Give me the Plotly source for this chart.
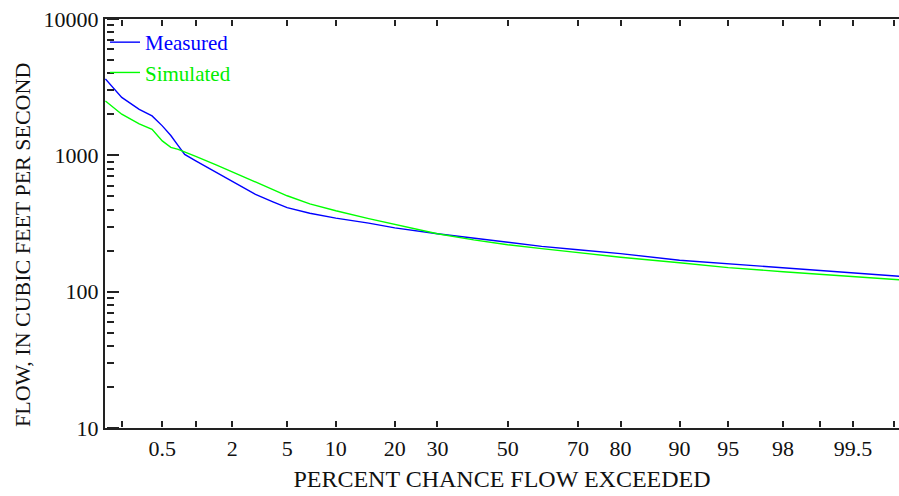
from statistics import NormalDist
import plotly.graph_objects as go

# Percent chance flow exceeded
pct = [0.135, 0.2, 0.3, 0.4, 0.5, 0.6, 0.7, 0.8, 1, 1.5, 2, 3, 4, 5, 7, 10, 15, 20,
       30, 40, 50, 60, 70, 80, 90, 95, 98, 99, 99.5, 99.8, 99.87]
measured = [3634, 2660, 2173, 1947, 1645, 1397, 1178, 1015, 911, 744, 640, 518, 456, 413,
            376, 346, 318, 294, 266, 247, 230, 215, 203, 190, 170, 160, 149, 142.5, 136.6,
            130.3, 127.7]
simulated = [2507, 2003, 1701, 1550, 1277, 1144, 1105, 1061, 981, 848, 757, 634, 559, 505,
             441, 392, 343, 310, 266, 240, 221, 207, 193, 179, 163, 150, 140, 134.3, 129.9,
             123.5, 120.4]

x_tick_pct = [0.2, 0.5, 1, 2, 5, 10, 20, 30, 50, 70, 80, 90, 95, 98, 99, 99.5, 99.8]
x_tick_txt = ["", "0.5", "", "2", "5", "10", "20", "30", "50", "70", "80", "90", "95",
              "98", "", "99.5", ""]
y_major = [10, 100, 1000, 10000]
y_major_txt = ["10", "100", "1000", "10000"]
y_minor = [m * d for d in (10, 100, 1000) for m in range(2, 10)]

nd = NormalDist()
def z(p):
    return nd.inv_cdf(p / 100.0)

xz = [z(p) for p in pct]
tick_z = [z(p) for p in x_tick_pct]

FONT = "Liberation Serif, Times New Roman, serif"
AX = "#222222"
W, H = 899, 496
L, T, B = 105, 19, 68
plot_w = W - L
plot_h = H - T - B
XR = [-3.003, 2.918]
YR = [1, 4]

fig = go.Figure()
fig.add_trace(go.Scatter(x=xz, y=measured, mode="lines",
                         name="<span style='color:#0000ff'>Measured</span>",
                         line=dict(color="#0000ff", width=1.4)))
fig.add_trace(go.Scatter(x=xz, y=simulated, mode="lines",
                         name="<span style='color:#00ee00'>Simulated</span>",
                         line=dict(color="#00ff00", width=1.4)))
# invisible helper traces so the tick-only axes are rendered
for xa, ya in (("x2", "y2"), ("x3", "y3")):
    fig.add_trace(go.Scatter(x=[xz[0]], y=[measured[0]], xaxis=xa, yaxis=ya,
                             mode="lines", showlegend=False, hoverinfo="skip",
                             line=dict(width=0), opacity=0))

tick_common = dict(ticks="outside", tickwidth=2, tickcolor=AX, showticklabels=False,
                   showline=False, showgrid=False, zeroline=False, anchor="free")

fig.update_layout(
    width=W, height=H,
    margin=dict(l=L, r=0, t=T, b=B),
    paper_bgcolor="white", plot_bgcolor="white",
    font=dict(family=FONT, size=22, color="#111111"),
    showlegend=True,
    legend=dict(x=0.0, y=1 - 3 / plot_h, xanchor="left", yanchor="top",
                bgcolor="rgba(0,0,0,0)", font=dict(family=FONT, size=21),
                itemwidth=30, tracegroupgap=0),
    xaxis=dict(range=XR, tickmode="array", tickvals=tick_z, ticktext=x_tick_txt,
               ticks="", showline=True, linecolor=AX, linewidth=2, mirror=True,
               showgrid=False, zeroline=False, tickfont=dict(family=FONT, size=22),
               title=dict(text="PERCENT CHANCE FLOW EXCEEDED",
                          font=dict(family=FONT, size=24), standoff=10)),
    yaxis=dict(type="log", range=YR, tickmode="array", tickvals=y_major,
               ticktext=y_major_txt, ticks="", showline=True, linecolor=AX,
               linewidth=2, showgrid=False, zeroline=False,
               tickfont=dict(family=FONT, size=22)),
    # bottom ticks pointing up into the plot
    xaxis2=dict(range=XR, overlaying="x", side="top", position=1.5 / plot_h,
                tickmode="array", tickvals=tick_z, ticklen=6, **tick_common),
    # top ticks pointing down into the plot
    xaxis3=dict(range=XR, overlaying="x", side="bottom", position=1,
                tickmode="array", tickvals=tick_z, ticklen=6, **tick_common),
    # left major ticks pointing right
    yaxis2=dict(type="log", range=YR, overlaying="y", side="right", position=1.2 / plot_w,
                tickmode="array", tickvals=y_major, ticklen=12, **tick_common),
    # left minor ticks pointing right
    yaxis3=dict(type="log", range=YR, overlaying="y", side="right", position=1.2 / plot_w,
                tickmode="array", tickvals=y_minor, ticklen=7, **tick_common),
    annotations=[dict(text="FLOW, IN CUBIC FEET PER SECOND", textangle=-90,
                      xref="paper", yref="paper", x=-(L - 22) / plot_w,
                      y=1 - (245 - T) / plot_h, xanchor="center", yanchor="middle",
                      showarrow=False, font=dict(family=FONT, size=22, color="#111111"))],
)

fig.write_html("out.html")
